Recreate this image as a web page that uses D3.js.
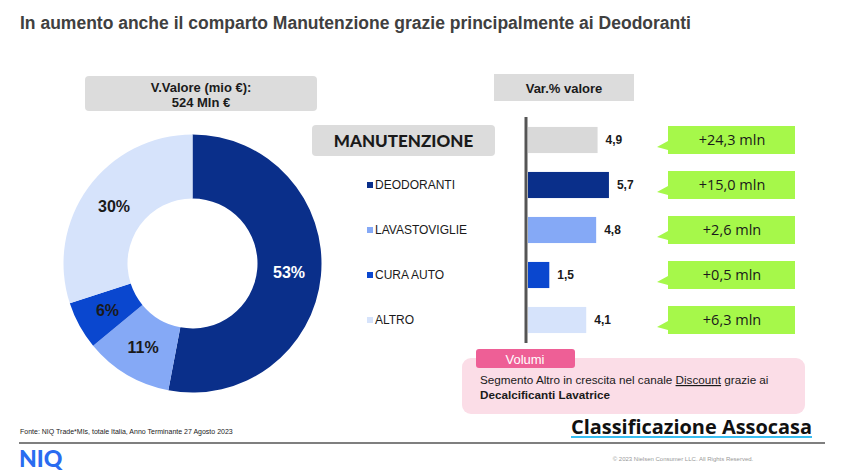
<!DOCTYPE html>
<html><head><meta charset="utf-8">
<script src="https://cdn.jsdelivr.net/npm/d3@7"></script>
<style>
html,body{margin:0;padding:0;background:#fff;}
svg{display:block;}
</style></head>
<body>
<svg id="c" width="845" height="475"></svg>
<script>
// ---- data ----
const donutCategories = ["DEODORANTI", "LAVASTOVIGLIE", "CURA AUTO", "ALTRO"];
const donutShares = [53, 11, 6, 30];
const donutColors = ["#0a2f8a", "#85a9f6", "#0a47cf", "#d6e3fb"];
const barCategories = ["MANUTENZIONE", "DEODORANTI", "LAVASTOVIGLIE", "CURA AUTO", "ALTRO"];
const barValues = [4.9, 5.7, 4.8, 1.5, 4.1];
const barValueLabels = ["4,9", "5,7", "4,8", "1,5", "4,1"];
const barColors = ["#d9d9d9", "#0a2f8a", "#85a9f6", "#0a47cf", "#d6e3fb"];
const deltaLabels = ["+24,3 mln", "+15,0 mln", "+2,6 mln", "+0,5 mln", "+6,3 mln"];
const totalLines = ["V.Valore (mio €):", "524 Mln €"];

const svg = d3.select("#c");
const ARIAL = "'Liberation Sans', Arial, sans-serif";
const GEO = "Lato, 'Open Sans', sans-serif";

// title
svg.append("text").attr("x", 20).attr("y", 29)
  .attr("font-family", ARIAL).attr("font-weight", "bold").attr("font-size", 17.5)
  .attr("fill", "#404040")
  .text("In aumento anche il comparto Manutenzione grazie principalmente ai Deodoranti");

// total box
svg.append("rect").attr("x", 85).attr("y", 76).attr("width", 232).attr("height", 35)
  .attr("rx", 4).attr("fill", "#dcdcdc");
svg.selectAll("text.tot").data(totalLines).join("text").attr("class", "tot")
  .attr("x", 201).attr("y", (d, i) => 92 + i * 15)
  .attr("text-anchor", "middle").attr("font-family", ARIAL).attr("font-weight", "bold")
  .attr("font-size", 13).attr("fill", "#1a1a1a").text(d => d);

// donut
const cx = 192.5, cy = 263.5, R = 129, r = 65;
const pie = d3.pie().sort(null).value(d => d)(donutShares);
const arc = d3.arc().innerRadius(r).outerRadius(R);
const labelArc = d3.arc().innerRadius((R + r) / 2).outerRadius((R + r) / 2);
const g = svg.append("g").attr("transform", `translate(${cx},${cy})`);
g.selectAll("path").data(pie).join("path").attr("d", arc)
  .attr("fill", (d, i) => donutColors[i]);
g.selectAll("text").data(pie).join("text")
  .attr("transform", d => `translate(${labelArc.centroid(d)})`)
  .attr("text-anchor", "middle").attr("dy", "0.35em")
  .attr("font-family", ARIAL).attr("font-weight", "bold").attr("font-size", 16)
  .attr("fill", (d, i) => i === 0 ? "#ffffff" : "#1a1a1a")
  .text(d => d.data + "%");

// MANUTENZIONE box
svg.append("rect").attr("x", 312).attr("y", 125).attr("width", 183).attr("height", 31)
  .attr("rx", 4).attr("fill", "#dcdcdc");
svg.append("text").attr("x", 403.5).attr("y", 141).attr("dy", "0.35em")
  .attr("text-anchor", "middle").attr("font-family", GEO).attr("font-weight", "900")
  .attr("font-size", 17).attr("fill", "#1a1a1a").text(barCategories[0]);

// bar scales
const y = d3.scaleBand().domain(barCategories).range([117.5, 342.5])
  .paddingInner(0.42).paddingOuter(0.21);
const x = d3.scaleLinear().domain([0, 6]).range([528, 613.2]);

// legend (for sub categories)
const leg = svg.selectAll("g.leg").data(donutCategories).join("g").attr("class", "leg")
  .attr("transform", d => `translate(367,${y(d) + y.bandwidth() / 2})`);
leg.append("rect").attr("x", 0).attr("y", -3).attr("width", 6).attr("height", 6)
  .attr("fill", (d, i) => donutColors[i]);
leg.append("text").attr("x", 8).attr("dy", "0.35em")
  .attr("font-family", ARIAL).attr("font-size", 12).attr("fill", "#1a1a1a").text(d => d);

// Var% header
svg.append("rect").attr("x", 494).attr("y", 74).attr("width", 140).attr("height", 27)
  .attr("fill", "#dcdcdc");
svg.append("text").attr("x", 564).attr("y", 88).attr("dy", "0.35em")
  .attr("text-anchor", "middle").attr("font-family", ARIAL).attr("font-weight", "bold")
  .attr("font-size", 13).attr("fill", "#1a1a1a").text("Var.% valore");

// bars
svg.selectAll("rect.bar").data(barValues).join("rect").attr("class", "bar")
  .attr("x", x(0)).attr("y", (d, i) => y(barCategories[i]))
  .attr("width", d => x(d) - x(0)).attr("height", y.bandwidth())
  .attr("fill", (d, i) => barColors[i]);
svg.selectAll("text.bv").data(barValues).join("text").attr("class", "bv")
  .attr("x", d => x(d) + 8).attr("y", (d, i) => y(barCategories[i]) + y.bandwidth() / 2)
  .attr("dy", "0.35em").attr("font-family", ARIAL).attr("font-weight", "bold")
  .attr("font-size", 12).attr("fill", "#1a1a1a").text((d, i) => barValueLabels[i]);
// axis line
svg.append("line").attr("x1", 526).attr("x2", 526).attr("y1", 117).attr("y2", 343)
  .attr("stroke", "#555").attr("stroke-width", 3);

// green callouts
const cg = svg.selectAll("g.call").data(deltaLabels).join("g").attr("class", "call")
  .attr("transform", (d, i) => `translate(0,${y(barCategories[i]) + y.bandwidth() / 2})`);
cg.append("path").attr("d", "M668,-14 L795,-14 L795,14 L668,14 L668,10 L657,7 L668,1 Z")
  .attr("fill", "#a6f84a");
cg.append("text").attr("x", 732).attr("dy", "0.35em").attr("text-anchor", "middle")
  .attr("font-family", "'Open Sans', Lato, sans-serif").attr("font-size", 14.5)
  .attr("fill", "#1a1a1a").text(d => d);

// Volumi box
svg.append("rect").attr("x", 462).attr("y", 358).attr("width", 343).attr("height", 56)
  .attr("rx", 9).attr("fill", "#fbdde7");
svg.append("rect").attr("x", 476).attr("y", 349).attr("width", 99).attr("height", 19)
  .attr("rx", 3).attr("fill", "#ee5f96");
svg.append("text").attr("x", 525).attr("y", 359).attr("dy", "0.35em").attr("text-anchor", "middle")
  .attr("font-family", ARIAL).attr("font-size", 13).attr("fill", "#fff").text("Volumi");
const t1 = svg.append("text").attr("x", 480).attr("y", 384)
  .attr("font-family", ARIAL).attr("font-size", 11.7).attr("fill", "#1a1a1a");
t1.append("tspan").text("Segmento Altro in crescita nel canale ");
t1.append("tspan").attr("text-decoration", "underline").text("Discount");
t1.append("tspan").text(" grazie ai");
svg.append("text").attr("x", 480).attr("y", 399)
  .attr("font-family", ARIAL).attr("font-size", 11.7).attr("font-weight", "bold").attr("fill", "#1a1a1a")
  .text("Decalcificanti Lavatrice");

// footer
svg.append("text").attr("x", 20).attr("y", 434)
  .attr("font-family", ARIAL).attr("font-size", 7).attr("fill", "#1a1a1a")
  .text("Fonte: NIQ  Trade*MIs, totale Italia, Anno Terminante 27 Agosto 2023");
svg.append("text").attr("x", 571).attr("y", 434)
  .attr("font-family", "'Open Sans', Lato, sans-serif").attr("font-weight", "bold").attr("font-size", 19)
  .attr("textLength", 241).attr("lengthAdjust", "spacingAndGlyphs")
  .attr("fill", "#111").text("Classificazione Assocasa");
svg.append("line").attr("x1", 571).attr("x2", 812).attr("y1", 437).attr("y2", 437)
  .attr("stroke", "#38bdf0").attr("stroke-width", 2);
svg.append("line").attr("x1", 19).attr("x2", 825).attr("y1", 443).attr("y2", 443)
  .attr("stroke", "#555").attr("stroke-width", 1.5);
svg.append("text").attr("x", 683).attr("y", 461).attr("text-anchor", "middle")
  .attr("font-family", ARIAL).attr("font-size", 6).attr("fill", "#999")
  .text("© 2023 Nielsen Consumer LLC. All Rights Reserved.");
svg.append("text").attr("x", 19).attr("y", 467)
  .attr("font-family", GEO).attr("font-weight", "900").attr("font-size", 23)
  .attr("fill", "#2a6cf0").text("NIQ");
</script>
</body></html>
